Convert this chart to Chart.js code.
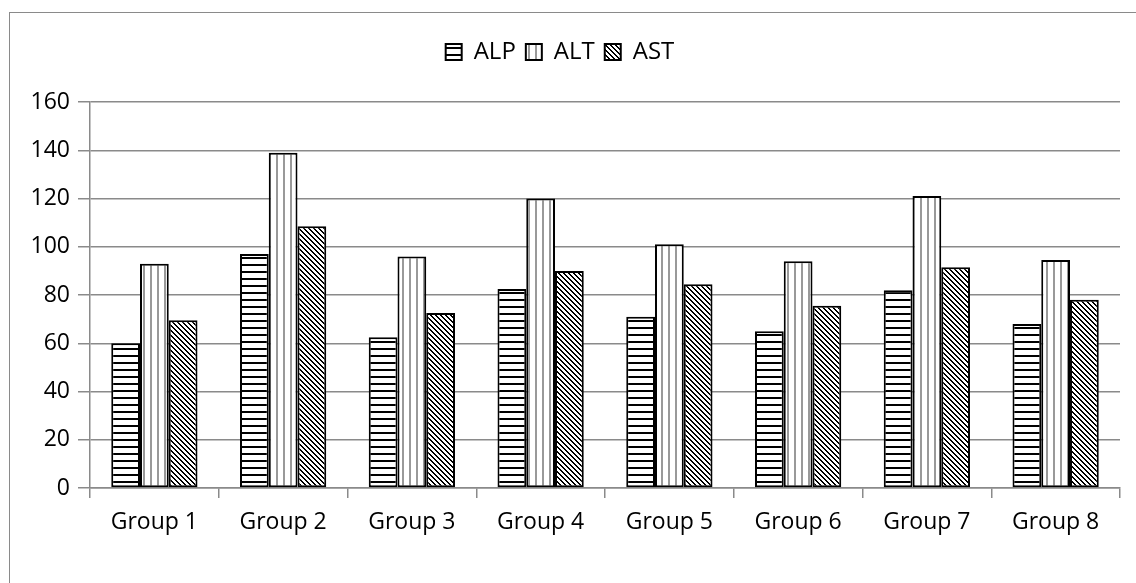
<!DOCTYPE html>
<html>
<head>
<meta charset="utf-8">
<script src="https://cdn.jsdelivr.net/npm/chart.js@4/dist/chart.umd.min.js"></script>
<style>
    html, body { margin: 0; padding: 0; background: #fff; }
    #wrap { position: relative; width: 1136px; height: 583px; }
    #frame { position: absolute; left: 9px; top: 12px; width: 1200px; height: 700px;
             border-left: 1.5px solid #8a8a8a; border-top: 1.5px solid #8a8a8a; }
    canvas { position: absolute; left: 0; top: 0; }
</style>
</head>
<body>
<div id="wrap">
    <div id="frame"></div>
    <canvas id="chart" width="1136" height="583"></canvas>
</div>
<script>
const groups = ['Group 1', 'Group 2', 'Group 3', 'Group 4', 'Group 5', 'Group 6', 'Group 7', 'Group 8'];
const alp = [60, 97, 62.5, 82.5, 71, 65, 82, 68];
const alt = [93, 139, 96, 120, 101, 94, 121, 94.5];
const ast = [69.5, 108.5, 72.5, 90, 84.5, 75.5, 91.5, 78];
const yTicks = [0, 20, 40, 60, 80, 100, 120, 140, 160];

// patterns like the excel fills
function makeTile(w, h, draw) {
    const c = document.createElement('canvas');
    c.width = w;
    c.height = h;
    const ctx = c.getContext('2d');
    ctx.fillStyle = '#fff';
    ctx.fillRect(0, 0, w, h);
    draw(ctx);
    return document.getElementById('chart').getContext('2d').createPattern(c, 'repeat');
}

const horizPattern = makeTile(8, 7, ctx => {
    ctx.fillStyle = '#000';
    ctx.fillRect(0, 5, 8, 2);
});

const vertPattern = makeTile(7, 8, ctx => {
    ctx.fillStyle = '#999';
    ctx.fillRect(3, 0, 2, 8);
});

const diagPattern = makeTile(5, 5, ctx => {
    ctx.fillStyle = '#000';
    for (let i = 0; i < 5; i++) {
        for (let j = 0; j < 5; j++) {
            if (((i - j) % 5 + 5) % 5 < 2) ctx.fillRect(i, j, 1, 1);
        }
    }
});

const font = { family: '"Open Sans", sans-serif', size: 23 };

// give the legend some extra room below it
const legendSpace = {
    id: 'legendSpace',
    beforeInit(chart) {
        const fit = chart.legend.fit;
        chart.legend.fit = function () {
            fit.bind(chart.legend)();
            this.height = 72;
        };
    }
};

new Chart(document.getElementById('chart'), {
    type: 'bar',
    data: {
        labels: groups,
        datasets: [{
            label: 'ALP',
            data: alp,
            backgroundColor: horizPattern,
            borderColor: '#000',
            borderWidth: 2,
            borderSkipped: false
        }, {
            label: 'ALT',
            data: alt,
            backgroundColor: vertPattern,
            borderColor: '#000',
            borderWidth: 2,
            borderSkipped: false
        }, {
            label: 'AST',
            data: ast,
            backgroundColor: diagPattern,
            borderColor: '#000',
            borderWidth: 2,
            borderSkipped: false
        }]
    },
    options: {
        responsive: false,
        animation: false,
        layout: { padding: { top: 30, right: 16, left: 0, bottom: 0 } },
        datasets: {
            bar: { barPercentage: 1, categoryPercentage: 0.67 }
        },
        plugins: {
            tooltip: { enabled: false },
            legend: {
                position: 'top',
                labels: {
                    font: { family: font.family, size: 24 },
                    color: '#000',
                    boxWidth: 16,
                    boxHeight: 16,
                    padding: 10
                }
            }
        },
        scales: {
            x: {
                offset: true,
                afterFit(scale) { scale.height = 95; },
                grid: {
                    offset: true,
                    drawOnChartArea: false,
                    drawTicks: true,
                    tickLength: 10,
                    color: '#8a8a8a',
                    lineWidth: 1.5
                },
                border: { color: '#8a8a8a', width: 1.5 },
                ticks: { font: font, color: '#000', padding: 11 }
            },
            y: {
                min: 0,
                max: 160,
                afterFit(scale) { scale.width = 90; },
                afterBuildTicks(scale) { scale.ticks = yTicks.map(v => ({ value: v })); },
                grid: {
                    color: '#8a8a8a',
                    lineWidth: 1.5,
                    tickLength: 12
                },
                border: { color: '#8a8a8a', width: 1.5 },
                ticks: { font: font, color: '#000', padding: 8 }
            }
        }
    },
    plugins: [legendSpace]
});
</script>
</body>
</html>
